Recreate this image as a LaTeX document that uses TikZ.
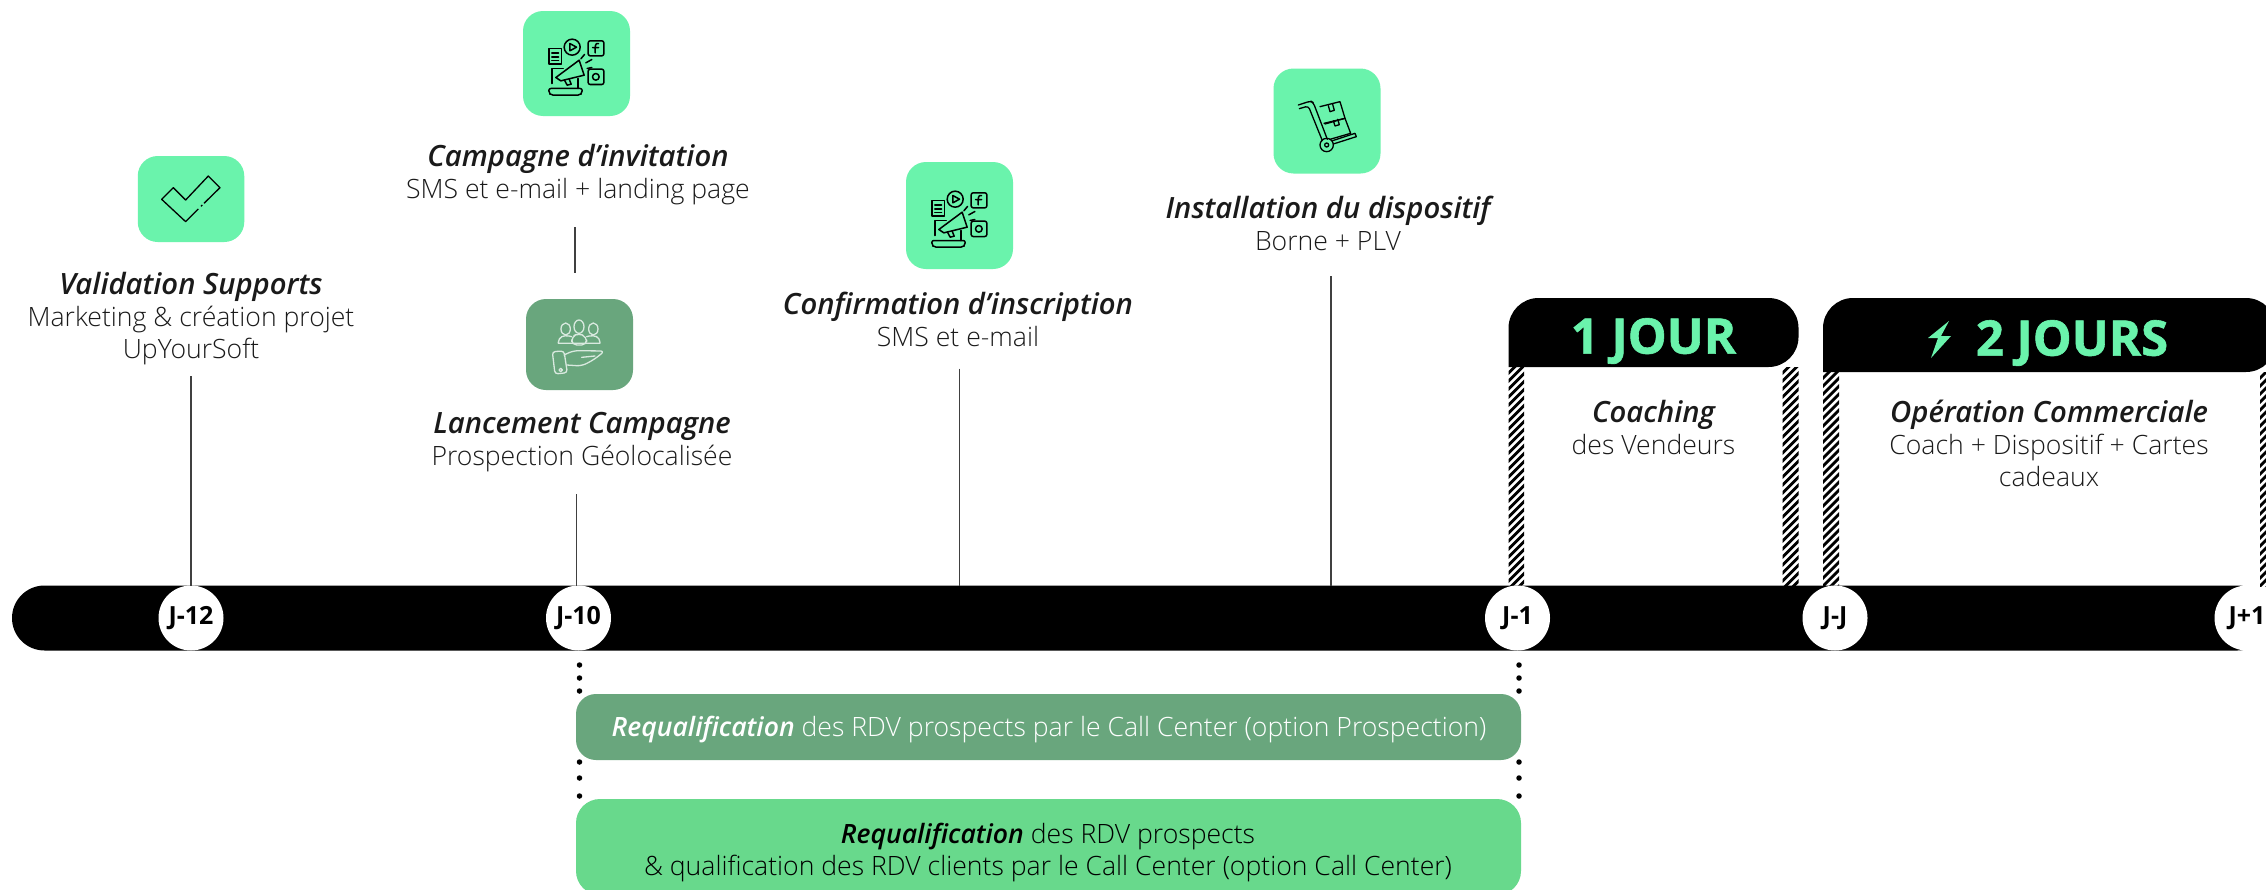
\documentclass[tikz,border=0pt]{standalone}
\usepackage{fontspec}
\setmainfont{Open Sans}
\newfontfamily\lightf{Open Sans Light}
\newfontfamily\xbold{Open Sans Bold}[FakeBold=1.2]
\definecolor{mint}{HTML}{6AF3AC}
\definecolor{sage}{HTML}{69A67D}
\definecolor{leaf}{HTML}{68D98C}
\definecolor{inkc}{HTML}{1A1A1A}
\tikzset{
 x=1pt,y=-1pt,
 every node/.style={inner sep=0pt,outer sep=0pt},
 iconbox/.style={fill=#1,rounded corners=20pt},
 daylabel/.style={circle,fill=white,minimum size=65pt,font=\fontsize{25}{25}\selectfont\bfseries},
 infotext/.style={align=center,text=inkc,font=\fontsize{26.6}{32}\lightf},
 headtext/.style={text=mint,font=\fontsize{49}{49}\xbold},
 leader/.style={draw=black!75,line width=1.4pt},
 dotmark/.style={circle,fill=black,minimum size=5.5pt},
 ic/.style={line width=1.5pt,line join=round,line cap=round,draw=black},
 il/.style={line width=1.3pt,line join=round,line cap=round,draw=#1},
}
\newcommand{\ttl}[1]{{\fontsize{29.3}{32}\selectfont\bfseries\itshape #1}}
\newcommand{\ttlb}[1]{{\fontsize{26.6}{32}\selectfont\bfseries\itshape #1}}
\newcommand{\hatchstrip}[4]{%
 \begin{scope}
  \clip (#1,#3) rectangle (#2,#4);
  \foreach \k in {0,...,30}{
    \draw[black,line width=2.8pt] (#1-2,#3+\k*8) -- ++(24,-24);
  }
 \end{scope}}
\newcommand{\megaphone}[2]{%
 \begin{scope}[shift={(#1,#2)},scale=.3333,shift={(-290,-190)}]
  \draw[ic] (207,145) rectangle (245,192);
  \draw[ic] (216,158)--(236,158) (216,170)--(236,170) (216,181)--(236,181);
  \draw[ic] (277,141) circle (24);
  \draw[ic] (270,130)--(290,141)--(270,152)--cycle;
  \draw[ic,rounded corners=2pt] (325,122) rectangle (372,167);
  \draw[ic] (356,130) .. controls (345,128) and (346,138) .. (346,158) (338,142)--(356,142);
  \draw[ic,rounded corners=2pt] (325,207) rectangle (372,253);
  \draw[ic] (348,230) circle (10);
  \draw[ic] (217,250)--(217,205)--(250,205) (295,235)--(295,265);
  \draw[ic,rounded corners=2pt] (207,265) -- (207,278) -- (214,285) -- (300,285) -- (307,278) -- (307,265) -- cycle;
  \draw[ic] (228,232)--(298,180)--(313,225)--(243,242)--cycle;
  \draw[ic] (254,240)--(262,255)--(274,252)--(268,237);
  \draw[ic] (303,176)--(314,163) (318,188)--(336,178) (322,205)--(336,202);
 \end{scope}}
\begin{document}
\begin{tikzpicture}
\clip (0,0) rectangle (2266,889);
\fill[white] (0,0) rectangle (2266,889);

% hatched strips
\hatchstrip{1508.5}{1524}{367}{586}
\hatchstrip{1782.5}{1798.5}{367}{586}
\hatchstrip{1823}{1839}{372}{586}
\hatchstrip{2260}{2268}{372}{586}

% timeline
\node[fill=black,rounded corners=32.5pt,minimum width=2258pt,minimum height=65pt,anchor=west] (bar) at (12,618) {};

% day markers
\node[daylabel] (j12) at (191,618) {J-12};
\node[daylabel] (j10) at (578.5,618) {J-10};
\node[daylabel] (j1) at (1517.5,618) {J-1};
\node[daylabel] (jj) at (1835,618) {J-J};
\node[daylabel] (jp) at (2247,618) {J+1};

% headers
\fill[black,rounded corners=30pt] (1508.5,367) -- (1508.5,298) -- (1798.5,298) -- (1798.5,367) [sharp corners] -- cycle;
\fill[black,rounded corners=30pt] (1823,372) -- (1823,298) -- (2276,298) -- (2276,372) [sharp corners] -- cycle;
\node[headtext] (h1) at (1653.5,341) {1 JOUR};
\node[headtext] (h2) at (2072,343) {2 JOURS};
\fill[mint] (1949,321)--(1928,338)--(1938,338)--(1931,358)--(1951,336)--(1941,336)--cycle;

% icon boxes
\node[iconbox=mint,minimum width=106.5pt,minimum height=86pt] (ic1) at (191,199) {};
\node[iconbox=mint,minimum width=107pt,minimum height=105pt] (ic2) at (576.5,63.5) {};
\node[iconbox=sage,minimum width=107pt,minimum height=91pt] (ic3) at (579.5,344.5) {};
\node[iconbox=mint,minimum width=107pt,minimum height=107pt] (ic4) at (959.5,215.5) {};
\node[iconbox=mint,minimum width=107pt,minimum height=105pt] (ic5) at (1327,121) {};

% check icon
\begin{scope}[shift={(100,140)},scale=.3333]
 \draw[il=black,line cap=butt] (312,190)--(360,143)--(325,108)--(257,180)--(220,143)--(185,178)--(257,245)--(295,207);
 \draw[il=black,line cap=butt] (303,199)--(307,195);
\end{scope}
\megaphone{576.5}{63.5}
\megaphone{959.5}{215.5}
% people icon
\begin{scope}[shift={(490,280)},scale=.3333]
 \draw[il=white!75!sage] (227,147) ellipse (14 and 18) (267,140) ellipse (15 and 20) (310,147) ellipse (14 and 18);
 \draw[il=white!75!sage,rounded corners=4pt] (205,190)--(205,175)--(225,165)--(245,170) (330,190)--(330,175)--(310,165)--(290,170) (205,190)--(330,190);
 \draw[il=white!75!sage,rounded corners=5pt] (245,195)--(245,170)--(265,160)--(290,170)--(290,195)--cycle;
 \draw[il=white!75!sage,rounded corners=3pt] (187,215)--(222,213)--(232,278)--(195,282)--cycle;
 \draw[il=white!75!sage,rounded corners=5pt] (222,225)--(250,212)--(345,213)--(310,240)--(275,258)--(230,255);
 \draw[il=white!75!sage] (275,232)--(315,228);
 \draw[il=white!75!sage] (212,270) circle (5);
\end{scope}
% cart icon
\begin{scope}[shift={(1240,50)},scale=.3333]
 \draw[il=black,rounded corners=3pt] (175,165)--(212,153)--(220,158)--(262,268);
 \draw[il=black,rounded corners=3pt] (178,176)--(205,168)--(247,272);
 \draw[il=black] (260,285) circle (20) (260,285) circle (6);
 \draw[il=black] (278,272)--(345,250)--(349,260)--(280,282);
 \draw[il=black] (240,170)--(300,155)--(315,205)--(255,222);
 \draw[il=black] (252,220)--(315,205)--(332,250)--(270,268);
 \draw[il=black] (265,167)--(270,185)--(283,181)--(278,163);
 \draw[il=black] (280,212)--(285,228)--(298,224)--(293,208);
\end{scope}

% texts
\node[infotext] (t1) at (191,318.5) {\ttl{Validation Supports}\\Marketing \& création projet\\UpYourSoft};
\node[infotext] (t2) at (578,175) {\ttl{Campagne d’invitation}\\SMS et e-mail + landing page};
\node[infotext] (t3) at (582,442) {\ttl{Lancement Campagne}\\Prospection Géolocalisée};
\node[infotext] (t4) at (958,319.5) {\ttl{Confirmation d’inscription}\\SMS et e-mail};
\node[infotext] (t5) at (1328,223) {\ttl{Installation du dispositif}\\Borne + PLV};
\node[infotext] (t6) at (1653.5,427) {\ttl{Coaching}\\des Vendeurs};
\node[infotext] (t7) at (2049,443.5) {\ttl{Opération Commerciale}\\Coach + Dispositif + Cartes\\cadeaux};

% connectors
\coordinate (c1) at (191,376);
\coordinate (c2a) at (575,227);
\coordinate (c2b) at (575,273);
\coordinate (c3) at (576.4,494);
\coordinate (c4) at (959.5,368.5);
\coordinate (c5) at (1331,276);
\draw[leader] (c1) -- (j12.north);
\draw[leader] (c2a) -- (c2b);
\draw[leader] (c3) -- (c3 |- bar.north);
\draw[leader] (c4) -- (c4 |- bar.north);
\draw[leader] (c5) -- (c5 |- bar.north);

% dots
\foreach \n/\yy in {a/665,b/678,c/691,d/762,e/778,f/796}{
 \node[dotmark] (dl\n) at (579.5,\yy) {};
 \node[dotmark] (dr\n) at (1519,\yy) {};
}
% lower bars
\node[fill=sage,rounded corners=20pt,minimum width=945pt,minimum height=66pt,anchor=north west] (b1) at (576,694) {};
\node[fill=leaf,rounded corners=24pt,minimum width=945pt,minimum height=96pt,anchor=north west] (b2) at (576,799) {};
\node[infotext,text=white] (b1t) at (1049,730) {\ttlb{Requalification} des RDV prospects par le Call Center (option Prospection)};
\node[infotext,text=black] (b2t) at (1048,853) {\ttlb{Requalification} des RDV prospects\\\& qualification des RDV clients par le Call Center (option Call Center)};
\end{tikzpicture}
\end{document}
